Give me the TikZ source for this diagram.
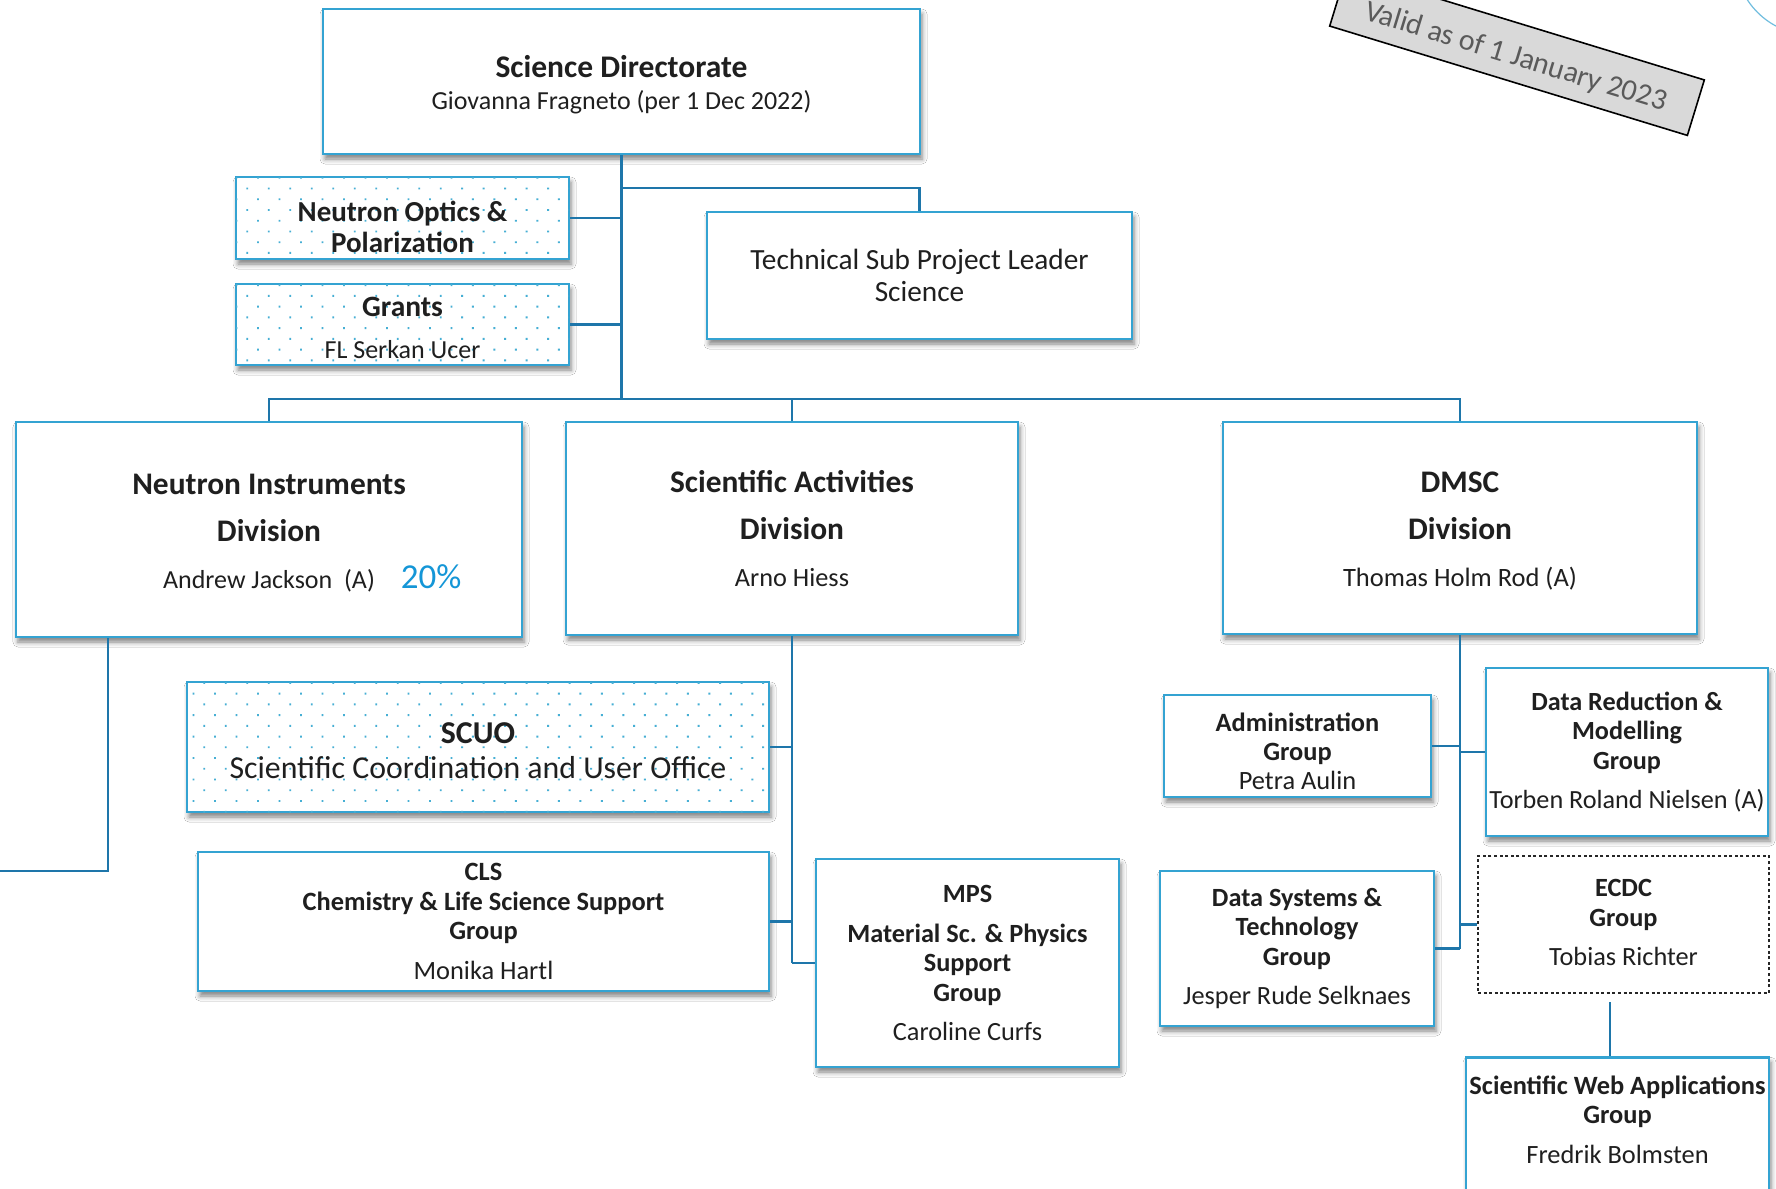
\documentclass[tikz,border=0pt]{standalone}
\usepackage{fontspec}
\setmainfont{Carlito}
\usetikzlibrary{shadows.blur,patterns.meta}
\definecolor{boxblue}{RGB}{52,163,210}
\definecolor{lineblue}{RGB}{30,118,170}
\definecolor{dotcyan}{RGB}{70,175,212}
\definecolor{pctblue}{RGB}{20,150,215}
\definecolor{validgray}{RGB}{217,217,217}
\definecolor{validtext}{RGB}{90,90,90}
\newcommand\fsz[2]{\fontsize{#1}{#2}\selectfont}
\tikzset{
  orgbox/.style={draw=boxblue, line width=2.6pt, fill=white, inner sep=0pt, align=center, text=black!88,
    blur shadow={shadow xshift=2pt, shadow yshift=-5pt, shadow blur radius=5pt, shadow opacity=50}},
  dotbox/.style={orgbox, postaction={pattern={Dots[distance=15.2pt, angle=45, radius=1.3pt]}, pattern color=dotcyan}},
  ecdcbox/.style={draw=black!85, line width=2.6pt, dash pattern=on 3pt off 2.6pt, fill=white, inner sep=0pt, align=center, text=black!88},
  txt/.style={align=center, text=black!88, inner sep=0pt},
  conn/.style={draw=lineblue, line width=2.6pt},
}
\begin{document}
\begin{tikzpicture}[x=1pt,y=-1pt]
\clip (0,0) rectangle (1776,1188);
\fill[white] (0,0) rectangle (1776,1188);

% top right decoration
\draw[boxblue!70, line width=1.2pt] (1812,-42) circle (77pt);
\node[draw=black, line width=1.6pt, fill=validgray, rotate=-17, minimum width=374pt, minimum height=58pt,
      text height=25pt, text depth=0pt,
      text=validtext, font=\fsz{30}{33}] (valid) at (1517,53) {Valid as of 1 January 2023};

% boxes
\node[orgbox, minimum width=597pt, minimum height=145pt,
      label={[txt, yshift=-3.5pt, font=\fsz{26}{32}]center:{\fsz{31.5}{32}\bfseries Science Directorate}\\Giovanna Fragneto (per 1 Dec 2022)}]
  (SD) at (621.5,81.5) {};
\node[dotbox, minimum width=333pt, minimum height=82pt,
      label={[txt, yshift=-9pt, font=\fsz{29}{30.5}\bfseries]center:Neutron Optics \&\\Polarization}]
  (NOP) at (402.5,218) {};
\node[dotbox, minimum width=333pt, minimum height=81pt,
      label={[txt, yshift=-3.5pt, font=\fsz{26}{42}]center:{\fsz{29.5}{42}\bfseries Grants}\\FL Serkan Ucer}]
  (Grants) at (402.5,324.5) {};
\node[orgbox, minimum width=425pt, minimum height=127pt, font=\fsz{29.3}{32}] (Tech) at (919.5,275.5)
  {Technical Sub Project Leader\\Science};

\node[orgbox, minimum width=506pt, minimum height=215pt,
      label={[txt, yshift=-3.5pt, font=\fsz{26}{47}]center:{\fsz{31.4}{47}\bfseries Neutron Instruments}\\{\fsz{31.4}{47}\bfseries Division}\\Andrew Jackson\ \ (A)\rlap{\hspace{26pt}\color{pctblue}\fsz{35}{47}20\%}}]
  (NID) at (269,529.5) {};
\node[orgbox, minimum width=452pt, minimum height=213pt, font=\fsz{26.3}{47}] (SAD) at (792,528.5)
  {{\fsz{31.4}{47}\bfseries Scientific Activities}\\{\fsz{31.4}{47}\bfseries Division}\\Arno Hiess};
\node[orgbox, minimum width=474pt, minimum height=212pt,
      label={[txt, yshift=-3.5pt, font=\fsz{26.5}{47}]center:{\fsz{31.4}{47}\bfseries DMSC}\\{\fsz{31.4}{47}\bfseries Division}\\Thomas Holm Rod (A)}]
  (DMSC) at (1460,528) {};

\node[dotbox, minimum width=582pt, minimum height=130pt,
      label={[txt, yshift=-3.5pt, font=\fsz{31.8}{35}]center:{\bfseries SCUO}\\Scientific Coordination and User Office}]
  (SCUO) at (478,747) {};
\node[orgbox, minimum width=571pt, minimum height=139pt, font=\fsz{26.4}{29.5}] (CLS) at (483.5,921.5)
  {{\bfseries CLS}\\{\bfseries Chemistry \& Life Science Support}\\{\bfseries Group}\\[10pt]Monika Hartl};
\node[orgbox, minimum width=303pt, minimum height=208pt, font=\fsz{26.3}{29.5}] (MPS) at (967.5,963)
  {{\bfseries MPS}\\[10pt]{\bfseries Material Sc. \& Physics}\\{\bfseries Support}\\{\bfseries Group}\\[10pt]Caroline Curfs};

\node[orgbox, minimum width=267pt, minimum height=102pt,
      label={[txt, yshift=-5.5pt, font=\fsz{26.4}{29}]center:{\bfseries Administration}\\{\bfseries Group}\\Petra Aulin}]
  (Admin) at (1297.5,746) {};
\node[orgbox, minimum width=282pt, minimum height=168pt, font=\fsz{26.2}{29.5}] (DRM) at (1627,752)
  {{\bfseries Data Reduction \&}\\{\bfseries Modelling}\\{\bfseries Group}\\[10pt]Torben Roland Nielsen (A)};
\node[orgbox, minimum width=274pt, minimum height=155pt, font=\fsz{26.3}{29.5}] (DST) at (1297,948.5)
  {{\bfseries Data Systems \&}\\{\bfseries Technology}\\{\bfseries Group}\\[10pt]Jesper Rude Selknaes};
\node[ecdcbox, minimum width=291pt, minimum height=137pt,
      label={[txt, yshift=2pt, font=\fsz{26.3}{29.5}]center:{\bfseries ECDC}\\{\bfseries Group}\\[10pt]Tobias Richter}]
  (ECDC) at (1623.5,924.5) {};
\node[orgbox, anchor=north, minimum width=303pt, minimum height=160pt,
      label={[anchor=north, yshift=-16pt, align=center, font=\fsz{26.4}{29.5}, text=black!88]north:{\bfseries Scientific Web Applications}\\{\bfseries Group}\\[10pt]Fredrik Bolmsten}]
  (SWA) at (1617.5,1056) {};

% helper coordinates
\coordinate (hbar) at (0,399);
\coordinate (tbar) at (0,188);
\coordinate (nidx) at (108,0);
\coordinate (nidout) at (0,871);
\coordinate (ex) at (1610,0);

% connectors
\draw[conn] (SD.south) -- (SD.south |- hbar);
\draw[conn] (SD.south |- tbar) -| (Tech.north);
\draw[conn] (NOP.east) -- (NOP.east -| SD.south);
\draw[conn] (Grants.east) -- (Grants.east -| SD.south);
\draw[conn] (NID.north) -- (NID.north |- hbar) -- (DMSC.north |- hbar) -- (DMSC.north);
\draw[conn] (SAD.north) -- (SAD.north |- hbar);
\draw[conn] (NID.south -| nidx) |- (nidout);

\draw[conn] (SAD.south) -- (SAD.south |- MPS.west);
\draw[conn] (SCUO.east) -- (SCUO.east -| SAD.south);
\draw[conn] (CLS.east) -- (CLS.east -| SAD.south);
\draw[conn] (MPS.west) -- (MPS.west -| SAD.south);

\draw[conn] (DMSC.south) -- (DMSC.south |- DST.east);
\draw[conn] (Admin.east) -- (Admin.east -| DMSC.south);
\draw[conn] (DRM.west) -- (DRM.west -| DMSC.south);
\draw[conn] (DST.east) -- (DST.east -| DMSC.south);
\draw[conn] (ECDC.west) -- (ECDC.west -| DMSC.south);
\draw[conn, shorten <=8pt] (ECDC.south -| ex) -- (SWA.north -| ex);
\end{tikzpicture}
\end{document}
